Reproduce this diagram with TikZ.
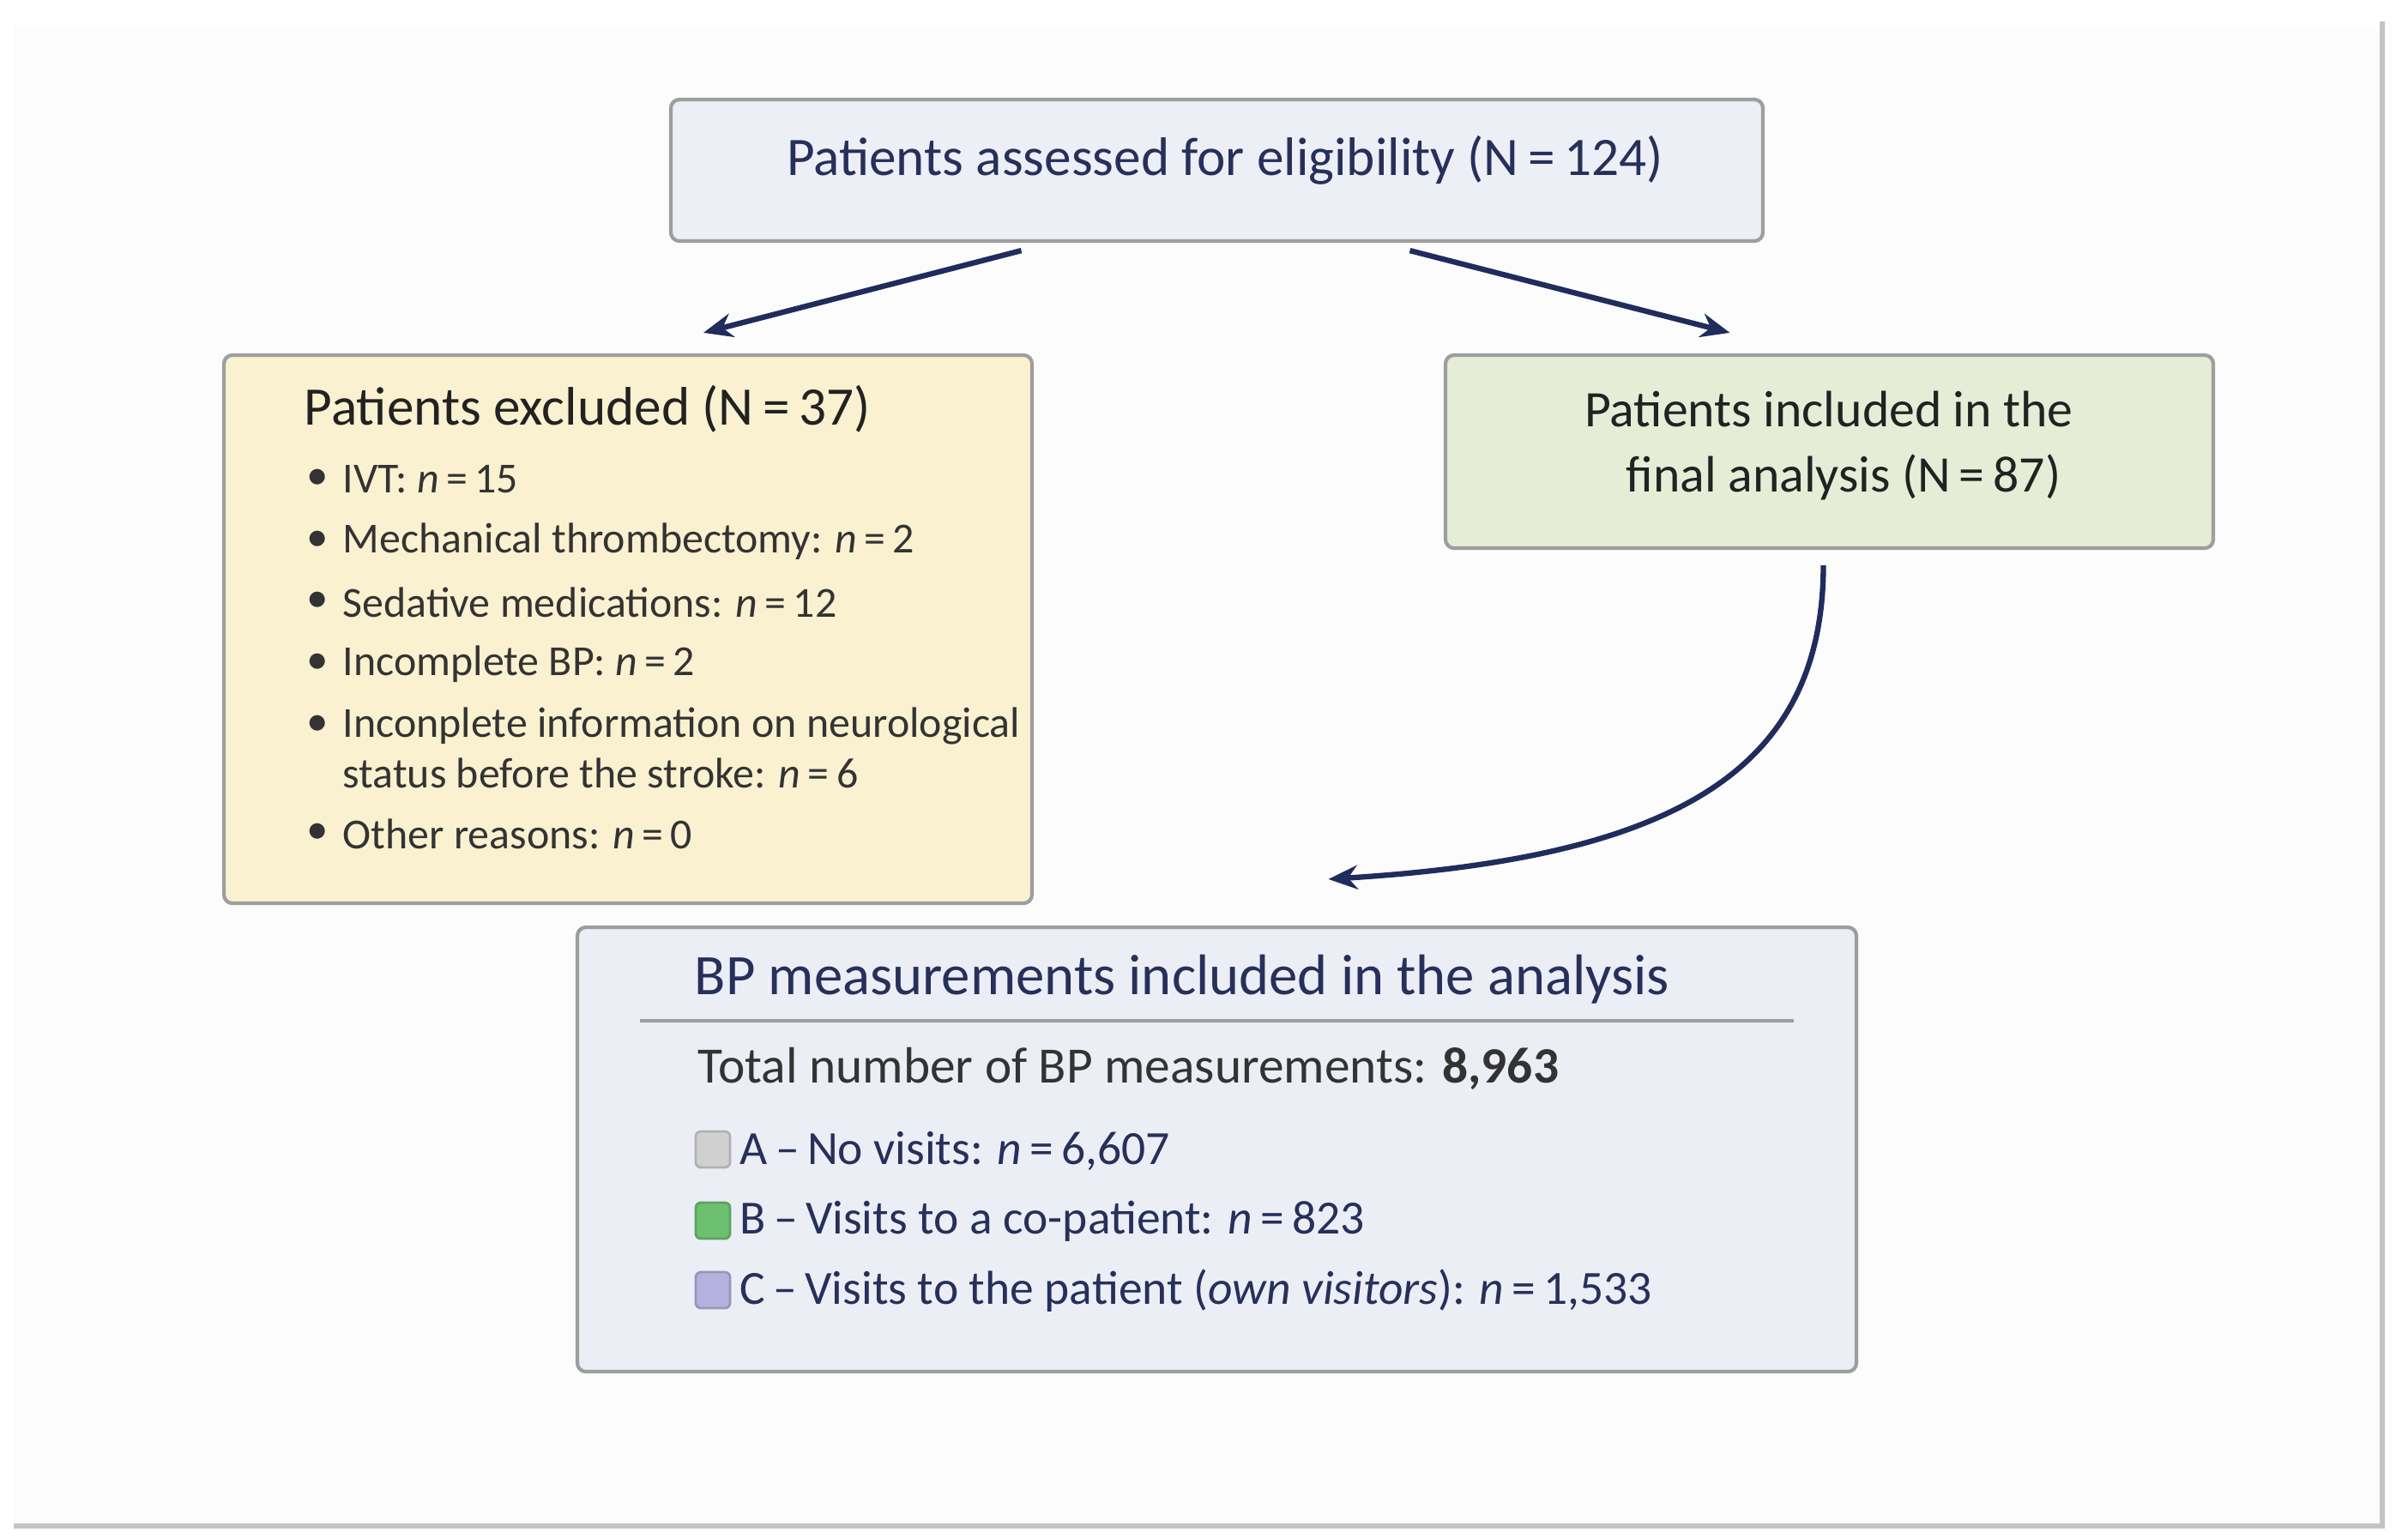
\documentclass[tikz,border=0pt]{standalone}
\usepackage{fontspec}
\setmainfont{Carlito}
\usetikzlibrary{arrows.meta,calc}
\definecolor{navy}{HTML}{1F2C5C}
\definecolor{navytext}{HTML}{26305A}
\definecolor{boxline}{HTML}{9E9E9E}
\definecolor{topfill}{HTML}{EDEFF6}
\definecolor{yelfill}{HTML}{FAF1D0}
\definecolor{grnfill}{HTML}{E6EDD7}
\definecolor{botfill}{HTML}{ECEEF6}
\definecolor{bgc}{HTML}{FCFCFD}
\definecolor{frame}{HTML}{C4C4C4}
\definecolor{darktext}{HTML}{222222}
\definecolor{itemtext}{HTML}{333333}
\definecolor{sqA}{HTML}{D0D0D0}
\definecolor{sqB}{HTML}{6CC070}
\definecolor{sqC}{HTML}{B4B1DE}
\tikzset{
  box/.style={draw=boxline, line width=1.2pt, rounded corners=0.1cm, inner sep=0pt},
  flowarrow/.style={draw=navy, line width=1.8pt, -{Stealth[length=0.34cm,width=0.28cm]}},
  ttl/.style={font=\fontsize{18}{21}\selectfont, inner sep=0pt},
  itm/.style={font=\fontsize{14.2}{17}\selectfont, text=itemtext, inner sep=0pt, anchor=west},
  bitm/.style={font=\fontsize{15.8}{19}\selectfont, text=navytext, inner sep=0pt, anchor=west},
  sq/.style={rounded corners=0.06cm, line width=0.8pt, minimum width=0.40cm, minimum height=0.42cm, inner sep=0pt}
}
\begin{document}
\begin{tikzpicture}
\useasboundingbox (0,0) rectangle (28.07,-17.92);
\fill[white] (0,0) rectangle (28.07,-17.92);
\fill[bgc] (0.16,-0.30) rectangle (27.75,-17.76);
\draw[frame, line width=1.6pt] (27.77,-0.25) -- (27.77,-17.79) -- (0.16,-17.79);

% boxes
\node[box, fill=topfill, minimum width=12.73cm, minimum height=1.65cm] (top) at (14.185,-1.985) {};
\node[box, fill=yelfill, minimum width=9.42cm, minimum height=6.39cm] (excl) at (7.32,-7.335) {};
\node[box, fill=grnfill, minimum width=8.95cm, minimum height=2.25cm] (incl) at (21.325,-5.265) {};
\node[box, fill=botfill, minimum width=14.91cm, minimum height=5.18cm] (bp) at (14.185,-13.40) {};

% top text
\node[ttl, text=navytext] (toptxt) at (14.28,-1.87) {Patients assessed for eligibility (N\,=\,124)};

% excluded text
\node[ttl, text=darktext, anchor=west] (extitle) at (3.54,-4.77) {Patients excluded (N\,=\,37)};
\foreach \y/\n in {5.59/b1,6.31/b2,7.02/b3,7.74/b4,8.46/b5,9.72/b6}{
  \node[itm, font=\fontsize{14.5}{16}\selectfont] (\n) at (3.57,-\y) {•};
}
\node[itm] (i1) at (3.99,-5.59) {IVT: \textit{n}\,=\,15};
\node[itm] (i2) at (3.99,-6.31) {Mechanical thrombectomy: \textit{n}\,=\,2};
\node[itm] (i3) at (3.99,-7.02) {Sedative medications: \textit{n}\,=\,12};
\node[itm] (i4) at (3.99,-7.74) {Incomplete BP: \textit{n}\,=\,2};
\node[itm] (i5) at (3.99,-8.46) {Inconplete information on neurological};
\node[itm] (i5b) at (3.99,-9.01) {status before the stroke: \textit{n}\,=\,6};
\node[itm] (i6) at (3.99,-9.72) {Other reasons: \textit{n}\,=\,0};

% included text
\node[ttl, text=darktext, font=\fontsize{17}{20}\selectfont] (inc1) at (21.32,-4.77) {Patients included in the};
\node[ttl, text=darktext, font=\fontsize{17}{20}\selectfont] (inc2) at (21.49,-5.56) {final analysis (N\,=\,87)};

% bottom box content
\node[font=\fontsize{19}{22}\selectfont, text=navytext, inner sep=0pt, anchor=west] (bptitle) at (8.09,-11.42) {BP measurements included in the analysis};
\draw[boxline, line width=1.2pt] ($(bp.north west)+(0.75,-1.11)$) coordinate (r1) -- ($(bp.north east)+(-0.75,-1.11)$) coordinate (r2);
\node[font=\fontsize{16.9}{20}\selectfont, text=itemtext, inner sep=0pt, anchor=west] (total) at (8.13,-12.46) {Total number of BP measurements: \textbf{8,963}};
\node[sq, fill=sqA, draw=sqA!85!black] (sa) at (8.31,-13.40) {};
\node[sq, fill=sqB, draw=sqB!85!black] (sb) at (8.31,-14.23) {};
\node[sq, fill=sqC, draw=sqC!85!black] (sc) at (8.31,-15.04) {};
\node[bitm] (la) at (8.62,-13.42) {A\,–\,No visits: \textit{n}\,=\,6,607};
\node[bitm] (lb) at (8.62,-14.24) {B\,–\,Visits to a co-patient: \textit{n}\,=\,823};
\node[bitm] (lc) at (8.62,-15.05) {C\,–\,Visits to the patient (\textit{own visitors}): \textit{n}\,=\,1,533};

% connectors
\draw[flowarrow] ($(top.south)+(-2.28,-0.09)$) -- ($(excl.north)+(0.88,0.24)$);
\draw[flowarrow] ($(top.south)+(2.25,-0.09)$) -- ($(incl.north)+(-1.16,0.24)$);
\draw[flowarrow] ($(incl.south)+(-0.07,-0.18)$) .. controls (21.25,-9.0) and (19.5,-10.0) .. ($(bp.north)+(1.30,0.54)$);
\end{tikzpicture}
\end{document}
